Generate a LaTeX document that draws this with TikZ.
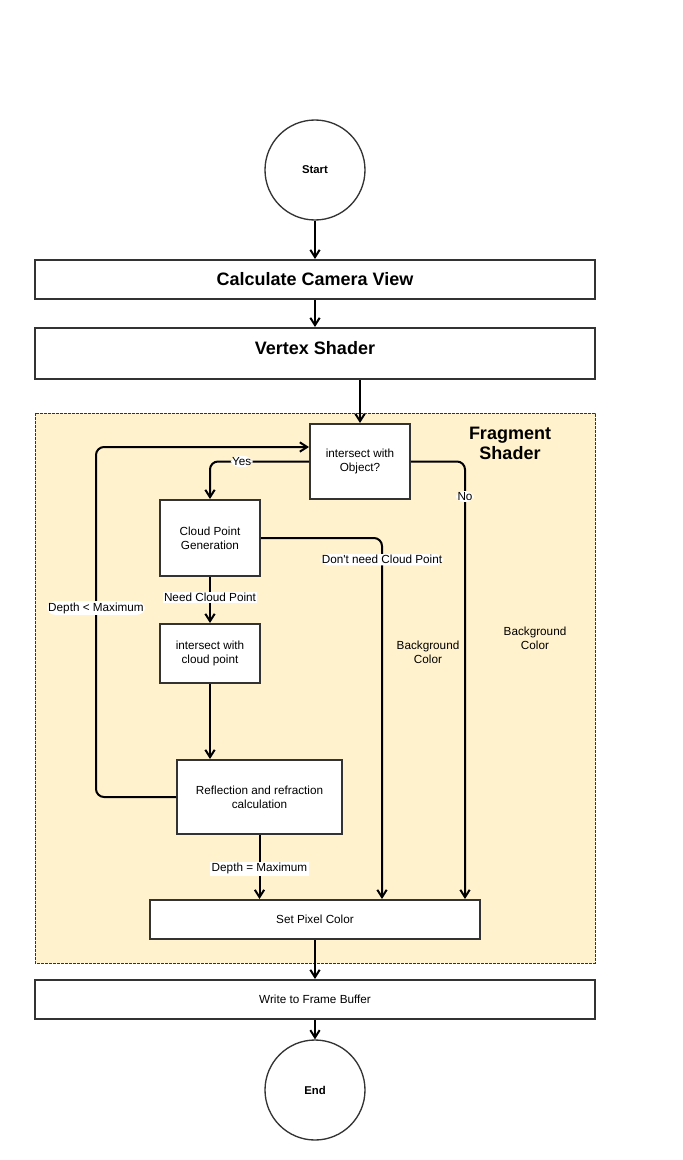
\documentclass[tikz,border=0pt]{standalone}
\usepackage{fontspec}
\setmainfont{Liberation Sans}
\usetikzlibrary{arrows.meta}

\definecolor{inkgray}{HTML}{333333}
\definecolor{fragbg}{HTML}{FFF2CC}

\tikzset{
  box/.style={draw=inkgray, line width=1.5pt, fill=white, rectangle, align=center,
    font=\fontsize{8.8}{10.5}\selectfont, inner sep=2pt},
  titlebox/.style={box, font=\fontsize{13.5}{16}\selectfont\bfseries},
  endpoint/.style={draw=inkgray, line width=1pt, circle, minimum size=75pt, fill=white,
    font=\fontsize{8.5}{10.5}\selectfont\bfseries},
  flow/.style={draw=black, line width=1.5pt, -{Straight Barb[length=5.5pt,width=7pt]}},
  lbl/.style={fill=white, inner sep=1pt, font=\fontsize{8.8}{10.5}\selectfont},
  note/.style={align=center, font=\fontsize{8.8}{10.5}\selectfont}
}

\begin{document}
\begin{tikzpicture}[x=0.75pt, y=-0.75pt]
      \useasboundingbox[fill=white] (0,0) rectangle (682,1160);
      \path[draw=inkgray, line width=0.6pt, dash pattern=on 2pt off 1pt, fill=fragbg] (35,413) rectangle (595,963);
      \node[align=center, font=\fontsize{13.5}{15}\selectfont\bfseries] (fraglabel) at (510,443) {Fragment\\Shader};

      \node[endpoint] (start) at (315,170) {Start};
      \node[titlebox, minimum width=420pt, minimum height=29.25pt] (camera) at (315,279.5) {Calculate Camera View};
      \node[titlebox, minimum width=420pt, minimum height=38.25pt, text depth=8pt] (vertex) at (315,353.5) {Vertex Shader};
      \node[box, minimum width=75pt, minimum height=56.25pt] (hitobj) at (360,461.5) {intersect with\\Object?};
      \node[box, minimum width=75pt, minimum height=57pt] (cloudgen) at (210,538) {Cloud Point\\Generation};
      \node[box, minimum width=75pt, minimum height=44.25pt] (hitcloud) at (210,653.5) {intersect with\\cloud point};
      \node[box, minimum width=123.75pt, minimum height=55.5pt] (reflect) at (259.5,797) {Reflection and refraction\\calculation};
      \node[box, minimum width=247.5pt, minimum height=29.25pt] (setpixel) at (315,919.5) {Set Pixel Color};
      \node[box, minimum width=420pt, minimum height=29.25pt] (framebuf) at (315,999.5) {Write to Frame Buffer};
      \node[endpoint] (finish) at (315,1090) {End};

      \node[note] (bgnear) at (428,652) {Background\\Color};
      \node[note] (bgfar) at (535,638) {Background\\Color};

      \coordinate (loopcorner) at (96,447);
      \coordinate (skipx) at (382,0);
      \coordinate (nox) at (465,0);

      \path[flow] (start) -- (camera);
      \path[flow] (camera) -- (vertex);
      \path[flow] (vertex.south -| hitobj.north) -- (hitobj.north);
      \path[flow, rounded corners=6pt] (reflect.west) -- (reflect.west -| loopcorner)
        -- node[lbl, pos=0.54] {Depth < Maximum} (loopcorner) -- (loopcorner -| hitobj.west);
      \path[flow, rounded corners=6pt] (hitobj.west) -| node[lbl, pos=0.34] {Yes} (cloudgen.north);
      \path[flow, rounded corners=6pt] (hitobj.east) -| node[lbl, pos=0.54] {No} (setpixel.north -| nox);
      \path[flow, rounded corners=6pt] (cloudgen.east) -| node[lbl, pos=0.53] {Don\textquotesingle t need Cloud Point} (setpixel.north -| skipx);
      \path[flow] (cloudgen) -- node[lbl, pos=0.45] {Need Cloud Point} (hitcloud);
      \path[flow] (hitcloud.south) -- (reflect.north -| hitcloud.south);
      \path[flow] (reflect.south) -- node[lbl, pos=0.53] {Depth = Maximum} (setpixel.north -| reflect.south);
      \path[flow] (setpixel) -- (framebuf);
      \path[flow] (framebuf) -- (finish);
    \end{tikzpicture}
\end{document}
